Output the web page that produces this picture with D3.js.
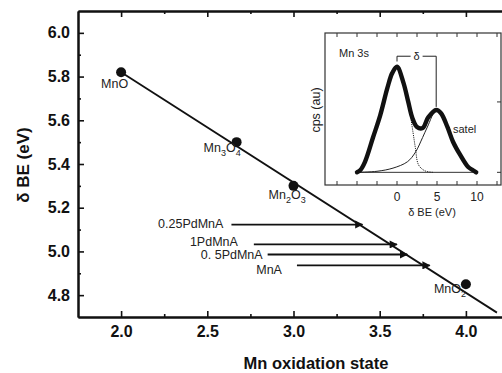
<!DOCTYPE html>
<html lang="en">
<head>
<meta charset="utf-8">
<style>
  body { margin: 0; background: #fff; }
  svg { display: block; font-family: Arial, "Liberation Sans", sans-serif; }
  .axis path, .axis line { stroke: #111; }
  .axis text { font-weight: bold; font-size: 16px; fill: #111; }
</style>
</head>
<body>
<div id="chart"></div>
<script src="https://cdn.jsdelivr.net/npm/d3@7"></script>
<script>

// main plot data
var xTicks = [2.0, 2.5, 3.0, 3.5, 4.0];
var xMinor = [2.25, 2.75, 3.25, 3.75];
var yTicks = [4.8, 5.0, 5.2, 5.4, 5.6, 5.8, 6.0];
var yMinor = [4.9, 5.1, 5.3, 5.5, 5.7, 5.9];

var oxides = ["MnO", "Mn3O4", "Mn2O3", "MnO2"];
var oxState = [2.0, 2.67, 3.0, 4.0];
var oxDeltaBE = [5.82, 5.50, 5.30, 4.85];

// linear fit drawn through the oxides
var fitX = [1.98, 4.18];
var fitY = [5.83, 4.72];

var samples = ["0.25PdMnA", "1PdMnA", "0. 5PdMnA", "MnA"];
var sampleDeltaBE = [5.123, 5.032, 4.986, 4.936];
var arrowFrom = [2.64, 2.77, 2.85, 3.02];
var sampleOxState = [3.40, 3.60, 3.66, 3.79];

// inset: Mn 3s spectrum
var envX = [-5, -4.6, -4, -3, -2.1, -1.2, -0.6, 0, 0.8, 1.4, 1.9, 2.5, 3.2, 3.9, 4.9, 5.5, 6.3, 7.0, 7.9, 8.9, 9.5, 9.9];
var envY = [0, 0.02, 0.10, 0.33, 0.54, 0.80, 0.94, 1.0, 0.85, 0.67, 0.52, 0.43, 0.42, 0.52, 0.59, 0.56, 0.43, 0.29, 0.165, 0.05, 0.02, 0];
var mainX = [-5, -4, -3, -2.1, -1.2, -0.6, 0, 0.8, 1.4, 2.0, 2.3, 2.7, 3.5, 4.5];
var mainY = [0, 0.10, 0.33, 0.54, 0.80, 0.94, 1.0, 0.85, 0.66, 0.38, 0.23, 0.07, 0.014, 0];
var satX = [-5, -2.5, -0.5, 1.3, 2.3, 3.2, 3.8, 4.9, 5.5, 6.3, 7.0, 7.9, 8.9, 9.9];
var satY = [0, 0.01, 0.04, 0.10, 0.19, 0.33, 0.43, 0.59, 0.56, 0.43, 0.29, 0.165, 0.05, 0];
var baseX = [-5, 9.9];
var insetTicks = [0, 5, 10];
var insetMinor = [-7.5, -5, -2.5, 0, 2.5, 5, 7.5, 10, 12.5];
var insetYTicks = [0, 0.667];
var deltaPeaks = [0, 4.9];

var W = 502, H = 373;
var svg = d3.select("#chart").append("svg")
    .attr("width", W)
    .attr("height", H);

var x = d3.scaleLinear().domain([1.75, 4.25]).range([78, 509]);
var y = d3.scaleLinear().domain([4.7, 6.1]).range([317, 11]);

svg.append("defs").append("marker")
    .attr("id", "head")
    .attr("viewBox", "0 0 10 10")
    .attr("refX", 9).attr("refY", 5)
    .attr("markerWidth", 5.5).attr("markerHeight", 4.5)
    .attr("markerUnits", "strokeWidth")
    .attr("orient", "auto")
  .append("path")
    .attr("d", "M0,0L10,5L0,10z")
    .attr("fill", "#111");

// axes, ticks pointing inwards
function styleAxis(g) {
  g.select(".domain").attr("stroke-width", 2);
  g.selectAll(".tick line").attr("stroke-width", 1.6);
}

svg.append("g").attr("class", "axis")
    .attr("transform", "translate(0,317)")
    .call(d3.axisBottom(x).tickValues(xTicks).tickFormat(d3.format(".1f"))
      .tickSizeInner(-6).tickSizeOuter(0).tickPadding(9))
    .call(styleAxis);
svg.append("g").attr("class", "axis")
    .attr("transform", "translate(0,317)")
    .call(d3.axisBottom(x).tickValues(xMinor).tickFormat("")
      .tickSizeInner(-3).tickSizeOuter(0))
    .call(styleAxis);
svg.append("g").attr("class", "axis")
    .attr("transform", "translate(0,11)")
    .call(d3.axisTop(x).tickValues(xTicks).tickFormat("")
      .tickSizeInner(-6).tickSizeOuter(0))
    .call(styleAxis);
svg.append("g").attr("class", "axis")
    .attr("transform", "translate(0,11)")
    .call(d3.axisTop(x).tickValues(xMinor).tickFormat("")
      .tickSizeInner(-3).tickSizeOuter(0))
    .call(styleAxis);
svg.append("g").attr("class", "axis")
    .attr("transform", "translate(78,0)")
    .call(d3.axisLeft(y).tickValues(yTicks).tickFormat(d3.format(".1f"))
      .tickSizeInner(-6).tickSizeOuter(0).tickPadding(8))
    .call(styleAxis);
svg.append("g").attr("class", "axis")
    .attr("transform", "translate(78,0)")
    .call(d3.axisLeft(y).tickValues(yMinor).tickFormat("")
      .tickSizeInner(-3).tickSizeOuter(0))
    .call(styleAxis);

// axis titles
svg.append("text")
    .attr("transform", "translate(29,165) rotate(-90)")
    .attr("text-anchor", "middle")
    .attr("font-size", "17px").attr("font-weight", "bold").attr("fill", "#111")
    .text("\u03b4 BE (eV)");
svg.append("text")
    .attr("x", 316).attr("y", 369)
    .attr("text-anchor", "middle")
    .attr("font-size", "16.5px").attr("font-weight", "bold").attr("fill", "#111")
    .text("Mn oxidation state");

// fit line
var line = d3.line().x(function(d) { return x(d[0]); }).y(function(d) { return y(d[1]); });
svg.append("path")
    .attr("d", line(d3.zip(fitX, fitY)))
    .attr("fill", "none").attr("stroke", "#111").attr("stroke-width", 1.8);

// reference oxides
svg.selectAll("circle.ox")
    .data(oxides)
    .enter().append("circle")
    .attr("class", "ox")
    .attr("cx", function(d, i) { return x(oxState[i]); })
    .attr("cy", function(d, i) { return y(oxDeltaBE[i]); })
    .attr("r", 5)
    .attr("fill", "#111");

var oxOffset = [[-20, 20], [-33, 14], [-25, 17], [-32, 13]];
oxides.forEach(function(name, i) {
  var t = svg.append("text")
      .attr("x", x(oxState[i]) + oxOffset[i][0])
      .attr("y", y(oxDeltaBE[i]) + oxOffset[i][1])
      .attr("font-size", "12.5px").attr("fill", "#222");
  // digits become subscripts
  name.split(/(\d)/).filter(function(s) { return s.length; }).forEach(function(s) {
    if (/\d/.test(s)) {
      t.append("tspan").attr("font-size", "9px").attr("dy", 4).text(s);
    } else {
      t.append("tspan").attr("dy", t.node().childNodes.length ? -4 : 0).text(s);
    }
  });
});

// sample arrows
svg.selectAll("line.arrow")
    .data(samples)
    .enter().append("line")
    .attr("class", "arrow")
    .attr("x1", function(d, i) { return x(arrowFrom[i]); })
    .attr("x2", function(d, i) { return x(sampleOxState[i]); })
    .attr("y1", function(d, i) { return y(sampleDeltaBE[i]); })
    .attr("y2", function(d, i) { return y(sampleDeltaBE[i]); })
    .attr("stroke", "#111").attr("stroke-width", 1.8)
    .attr("marker-end", "url(#head)");

var sampOffset = [[-8, 3.5], [-16, 1.5], [-5, 4.5], [-15, 8.5]];
svg.selectAll("text.samp")
    .data(samples)
    .enter().append("text")
    .attr("class", "samp")
    .attr("x", function(d, i) { return x(arrowFrom[i]) + sampOffset[i][0]; })
    .attr("y", function(d, i) { return y(sampleDeltaBE[i]) + sampOffset[i][1]; })
    .attr("text-anchor", "end")
    .attr("font-size", "12.5px").attr("fill", "#222")
    .text(function(d) { return d; });

// ---- inset ----
var xi = d3.scaleLinear().domain([-9, 13]).range([325, 501]);
var yi = d3.scaleLinear().domain([-0.12, 1.32]).range([185, 33]);
var inset = svg.append("g");

inset.append("rect")
    .attr("x", 325).attr("y", 33).attr("width", 176).attr("height", 152)
    .attr("fill", "#fff").attr("stroke", "#333").attr("stroke-width", 1.2);

inset.selectAll("line.tb")
    .data(insetMinor)
    .enter().append("line")
    .attr("class", "tb")
    .attr("x1", function(d) { return xi(d); }).attr("x2", function(d) { return xi(d); })
    .attr("y1", 185).attr("y2", 181)
    .attr("stroke", "#333");
inset.selectAll("line.tt")
    .data(insetMinor)
    .enter().append("line")
    .attr("class", "tt")
    .attr("x1", function(d) { return xi(d); }).attr("x2", function(d) { return xi(d); })
    .attr("y1", 33).attr("y2", 37)
    .attr("stroke", "#333");
inset.selectAll("line.tr")
    .data(insetYTicks)
    .enter().append("line")
    .attr("class", "tr")
    .attr("x1", 501).attr("x2", 497)
    .attr("y1", function(d) { return yi(d); }).attr("y2", function(d) { return yi(d); })
    .attr("stroke", "#333");
inset.selectAll("text.tl")
    .data(insetTicks)
    .enter().append("text")
    .attr("class", "tl")
    .attr("x", function(d) { return xi(d); })
    .attr("y", 201)
    .attr("text-anchor", "middle")
    .attr("font-size", "12px").attr("fill", "#222")
    .text(function(d) { return d; });

inset.append("text")
    .attr("x", 432).attr("y", 216)
    .attr("text-anchor", "middle")
    .attr("font-size", "11px").attr("fill", "#222")
    .text("\u03b4 BE (eV)");
inset.append("text")
    .attr("transform", "translate(320,110) rotate(-90)")
    .attr("text-anchor", "middle")
    .attr("font-size", "12.5px").attr("fill", "#222")
    .text("cps (au)");

var iline = d3.line()
    .x(function(d) { return xi(d[0]); })
    .y(function(d) { return yi(d[1]); })
    .curve(d3.curveCatmullRom);

inset.append("path")
    .attr("d", iline(baseX.map(function(v) { return [v, 0]; })))
    .attr("fill", "none").attr("stroke", "#333").attr("stroke-width", 1);
inset.append("path")
    .attr("d", iline(d3.zip(satX, satY)))
    .attr("fill", "none").attr("stroke", "#222").attr("stroke-width", 1);
inset.append("path")
    .attr("d", iline(d3.zip(mainX, mainY)))
    .attr("fill", "none").attr("stroke", "#222").attr("stroke-width", 1)
    .attr("stroke-dasharray", "1.2,1");
inset.append("path")
    .attr("d", iline(d3.zip(envX, envY)))
    .attr("fill", "none").attr("stroke", "#111").attr("stroke-width", 4.4)
    .attr("stroke-linecap", "round").attr("stroke-linejoin", "round");

// delta bracket between the two peaks
var bTop = yi(1.10);
var bx0 = xi(deltaPeaks[0]), bx1 = xi(deltaPeaks[1]);
var bmid = (bx0 + bx1) / 2;
inset.append("path")
    .attr("d", "M" + bx0 + "," + yi(1.05) + "V" + bTop + "H" + (bmid - 6) +
               "M" + (bmid + 6) + "," + bTop + "H" + bx1 + "V" + yi(0.62))
    .attr("fill", "none").attr("stroke", "#222").attr("stroke-width", 1);
inset.append("text")
    .attr("x", bmid).attr("y", bTop + 4)
    .attr("text-anchor", "middle")
    .attr("font-size", "11px").attr("fill", "#222")
    .text("\u03b4");

inset.append("text")
    .attr("x", 339).attr("y", 57)
    .attr("font-family", "'Liberation Sans Narrow', 'Arial Narrow', sans-serif")
    .attr("font-size", "11px").attr("fill", "#222")
    .text("Mn 3s");
inset.append("text")
    .attr("x", 453).attr("y", 133)
    .attr("font-family", "'Liberation Sans Narrow', 'Arial Narrow', sans-serif")
    .attr("font-size", "11px").attr("fill", "#222")
    .text("satel");

</script>
</body>
</html>
